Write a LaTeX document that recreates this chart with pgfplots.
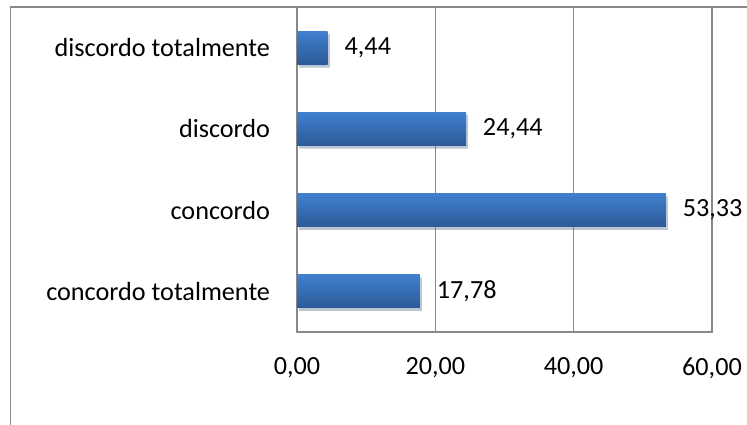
\documentclass[border=0pt]{standalone}
\usepackage{fontspec}
\setmainfont{Carlito}
\usepackage{pgfplots}
\pgfplotsset{compat=1.18}
\usetikzlibrary{shadows}
\definecolor{gridgray}{RGB}{137,137,137}
\definecolor{bartop}{RGB}{64,128,206}
\definecolor{barbot}{RGB}{44,90,152}
\pgfplotsset{mybar/.style={draw=none, bar shift=0pt, top color=bartop, bottom color=barbot, drop shadow={opacity=0.22, shadow xshift=2pt, shadow yshift=-3pt}}}
\begin{document}
\fontsize{26.2}{31}\selectfont
\begin{tikzpicture}
\begin{axis}[
 at={(297pt,-332pt)}, anchor=south west,
 scale only axis, width=415pt, height=325pt,
 xbar, bar width=33pt,
 xmin=0, xmax=60, ymin=-0.5, ymax=3.5,
 xtick={0,20,40,60}, ytick={0,1,2,3},
 yticklabels={concordo totalmente, concordo, discordo, discordo totalmente},
 xmajorgrids, major grid style={gridgray, line width=1.5pt},
 axis line style={gridgray, line width=1.5pt},
 major tick length=0pt,
 /pgf/number format/.cd, fixed, fixed zerofill, precision=2, use comma, assume math mode=true,
 /pgfplots/.cd,
 xticklabel style={yshift=-17pt},
 yticklabel style={xshift=-18pt},
 nodes near coords, nodes near coords style={xshift=8pt, black},
]
\addplot[mybar] coordinates {(17.78,0)};
\addplot[mybar] coordinates {(53.33,1)};
\addplot[mybar] coordinates {(24.44,2)};
\addplot[mybar] coordinates {(4.44,3)};
\end{axis}
\draw[gridgray, line width=1.5pt] (10.5pt,-425pt) -- (10.5pt,-7pt) -- (747pt,-7pt);
\pgfresetboundingbox
\path (0,0) rectangle (747pt,-425pt);
\end{tikzpicture}
\end{document}
